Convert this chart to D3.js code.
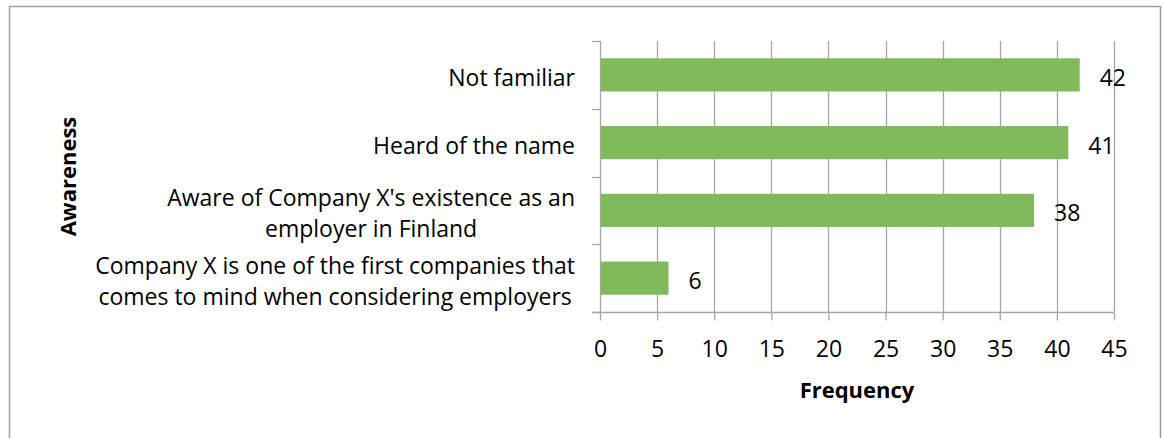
<!DOCTYPE html>
<html>
<head>
<meta charset="utf-8">
<script src="https://cdn.jsdelivr.net/npm/d3@7"></script>
<style>
  html, body { margin: 0; padding: 0; background: #fff; }
  svg { display: block; }
  text { font-family: "Open Sans", "Noto Sans", sans-serif; fill: #000; }
</style>
</head>
<body>
<svg id="chart" width="1163" height="438"></svg>
<script>
// Awareness levels, listed from top to bottom
const categories = [
  ["Not familiar"],
  ["Heard of the name"],
  ["Aware of Company X's existence as an", "employer in Finland"],
  ["Company X is one of the first companies that", "comes to mind when considering employers"]
];
const values = [42, 41, 38, 6];
const xTicks = [0, 5, 10, 15, 20, 25, 30, 35, 40, 45];
const xTitle = "Frequency";
const yTitle = "Awareness";

const svg = d3.select("#chart");
const plot = { left: 600, right: 1114, top: 41, bottom: 312 };
const gridColor = "#a6a6a6";
const barColor = "#80ba5a";
const fontSize = 23;

// outer frame
svg.append("rect")
  .attr("x", 9.5).attr("y", 6.5)
  .attr("width", 1151).attr("height", 460)
  .attr("fill", "#fff")
  .attr("stroke", "#a0a0a0").attr("stroke-width", 1.5);

const x = d3.scaleLinear().domain([0, 45]).range([plot.left, plot.right]);
const y = d3.scaleBand()
  .domain(d3.range(categories.length))
  .range([plot.top, plot.bottom])
  .paddingInner(0.51).paddingOuter(0.255);

// vertical gridlines
svg.append("g").selectAll("line")
  .data(xTicks.filter(t => t > 0))
  .join("line")
  .attr("x1", d => Math.round(x(d)) + 0.5).attr("x2", d => Math.round(x(d)) + 0.5)
  .attr("y1", plot.top).attr("y2", plot.bottom)
  .attr("stroke", gridColor).attr("stroke-width", 1.3);

// bars
svg.append("g").selectAll("rect")
  .data(values)
  .join("rect")
  .attr("x", x(0))
  .attr("y", (d, i) => y(i))
  .attr("width", d => x(d) - x(0))
  .attr("height", y.bandwidth())
  .attr("fill", barColor);

// x axis
const xAxis = d3.axisBottom(x).tickValues(xTicks).tickSize(8).tickPadding(20);
const gx = svg.append("g")
  .attr("transform", `translate(0,${plot.bottom + 0.5})`)
  .call(xAxis);
gx.select(".domain").attr("stroke", gridColor).attr("stroke-width", 1.3)
  .attr("d", `M${plot.left - 8},0H${plot.right}`);
gx.selectAll(".tick line").attr("stroke", gridColor).attr("stroke-width", 1.3);
gx.selectAll(".tick text")
  .attr("font-size", fontSize)
  .attr("font-family", "Open Sans, sans-serif")
  .attr("fill", "#000");

// y axis line and category boundary ticks
const step = y.step();
svg.append("line")
  .attr("x1", plot.left + 0.5).attr("x2", plot.left + 0.5)
  .attr("y1", plot.top).attr("y2", plot.bottom)
  .attr("stroke", gridColor).attr("stroke-width", 1.3);
svg.append("g").selectAll("line")
  .data(d3.range(categories.length + 1))
  .join("line")
  .attr("x1", plot.left - 8).attr("x2", plot.left)
  .attr("y1", i => Math.round(plot.top + i * step) + 0.5)
  .attr("y2", i => Math.round(plot.top + i * step) + 0.5)
  .attr("stroke", gridColor).attr("stroke-width", 1.3);

// category labels (multi-line, centred within a right-aligned block)
const lineGap = 31;
const labelRight = 575;
const labels = svg.append("g");
categories.forEach((lines, i) => {
  const cy = y(i) + y.bandwidth() / 2 + 11;
  const g = labels.append("g");
  const texts = lines.map((ln, k) =>
    g.append("text")
      .attr("font-size", fontSize)
      .attr("y", cy + (k - (lines.length - 1) / 2) * lineGap)
      .text(ln));
  const maxW = d3.max(texts, t => t.node().getComputedTextLength());
  const centre = labelRight - maxW / 2;
  texts.forEach(t => t.attr("x", centre).attr("text-anchor", "middle"));
});

// value labels
svg.append("g").selectAll("text")
  .data(values)
  .join("text")
  .attr("x", d => x(d) + 20)
  .attr("y", (d, i) => y(i) + y.bandwidth() / 2 + 11)
  .attr("font-size", fontSize)
  .text(d => d);

// axis titles
svg.append("text")
  .attr("x", (plot.left + plot.right) / 2)
  .attr("y", 398)
  .attr("text-anchor", "middle")
  .attr("font-size", 22)
  .attr("font-weight", "bold")
  .text(xTitle);

svg.append("text")
  .attr("transform", `translate(76,${(plot.top + plot.bottom) / 2}) rotate(-90)`)
  .attr("text-anchor", "middle")
  .attr("font-size", 22)
  .attr("font-weight", "bold")
  .text(yTitle);
</script>
</body>
</html>
